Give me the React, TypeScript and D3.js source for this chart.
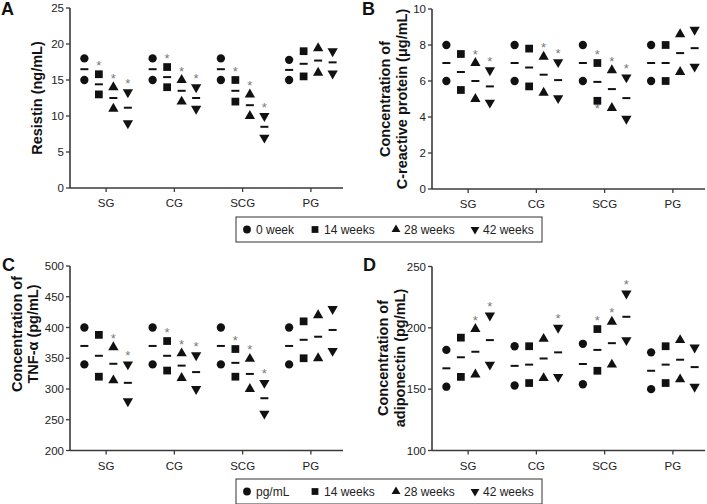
import React from "react";
import * as d3 from "d3";

const FONT = "'Liberation Sans', Arial, Helvetica, sans-serif";

const groups = ["SG", "CG", "SCG", "PG"];
const legendTopLabels = ["0 week", "14 weeks", "28 weeks", "42 weeks"];
const legendBottomLabels = ["pg/mL", "14 weeks", "28 weeks", "42 weeks"];

// Each series: per group [upper value, lower value]
const resistin0w = [[18, 15], [18, 15], [18, 15], [17.8, 15]];
const resistin14w = [[15.8, 13], [16.8, 14], [15, 12], [19, 15.5]];
const resistin28w = [[14, 11], [15, 12], [13, 10], [19.4, 16]];
const resistin42w = [[13.3, 9], [14, 11], [10, 7], [19, 15.9]];
// significance per group per timepoint
const resistinSig = [[0, 1, 1, 1], [0, 1, 1, 1], [0, 1, 1, 1], [0, 0, 0, 0]];
const resistinTicks = [0, 5, 10, 15, 20, 25];

const crp0w = [[8, 6], [8, 6], [8, 6], [8, 6]];
const crp14w = [[7.5, 5.5], [7.8, 5.7], [7, 4.9], [8, 6]];
const crp28w = [[7, 5], [7.35, 5.35], [6.6, 4.5], [8.6, 6.5]];
const crp42w = [[6.6, 4.8], [7.05, 5.05], [6.2, 3.9], [8.85, 6.8]];
const crpSig = [[0, 0, 1, 1], [0, 0, 1, 1], [0, 1, 1, 1], [0, 0, 0, 0]];
const crpSigLow = [[0, 0, 0, 0], [0, 0, 0, 0], [0, 1, 0, 0], [0, 0, 0, 0]];
const crpTicks = [0, 2, 4, 6, 8, 10];

const tnf0w = [[400, 340], [400, 340], [400, 340], [400, 340]];
const tnf14w = [[388, 320], [378, 330], [365, 320], [410, 350]];
const tnf28w = [[368, 314], [358, 318], [349, 300], [420, 350]];
const tnf42w = [[340, 280], [355, 300], [310, 260], [430, 362]];
const tnfSig = [[0, 0, 1, 1], [0, 1, 1, 1], [0, 1, 1, 1], [0, 0, 0, 0]];
const tnfTicks = [200, 250, 300, 350, 400, 450, 500];

const adipo0w = [[182, 152], [185, 153], [187, 154], [180, 150]];
const adipo14w = [[192, 160], [185, 155], [199, 165], [185, 155]];
const adipo28w = [[199, 162], [191, 159], [205, 170], [190, 158]];
const adipo42w = [[210, 170], [200, 160], [228, 190], [184, 152]];
const adipoSig = [[0, 0, 1, 1], [0, 0, 0, 1], [0, 1, 1, 1], [0, 0, 0, 0]];
const adipoTicks = [100, 150, 200, 250];

const noSig = [[0, 0, 0, 0], [0, 0, 0, 0], [0, 0, 0, 0], [0, 0, 0, 0]];

const symCircle = d3.symbol(d3.symbolCircle, 54)();
const symSquare = d3.symbol(d3.symbolSquare, 60)();
const symTri = d3.symbol(d3.symbolTriangle, 46)();
const symbols = [
  { d: symCircle, rot: 0 },
  { d: symSquare, rot: 0 },
  { d: symTri, rot: 0 },
  { d: symTri, rot: 180 },
];

const INK = "#111";
const AXIS = "#3a3a3a";
const STAR = "#7a7a7a";

type Cfg = {
  letter: string;
  letterX: number;
  letterY: number;
  left: number;
  right: number;
  top: number;
  bottom: number;
  domain: [number, number];
  ticks: number[];
  labels: string[];
  labelXs: number[];
  labelY: number;
  series: number[][][];
  sig: number[][];
  sigLow: number[][];
};

function Marker({ i, x, y }: { i: number; x: number; y: number }) {
  const s = symbols[i];
  return (
    <path
      d={s.d as string}
      transform={`translate(${x},${y})${s.rot ? ` rotate(${s.rot})` : ""}`}
      fill={INK}
    />
  );
}

function Panel({ cfg }: { cfg: Cfg }) {
  const y = d3.scaleLinear().domain(cfg.domain).range([cfg.bottom, cfg.top]);
  const x = d3
    .scaleBand<string>()
    .domain(groups)
    .range([cfg.left + 2, cfg.right + 2]);
  const step = 14.5;
  const cx = (g: string, t: number) =>
    (x(g) as number) + x.bandwidth() / 2 + (t - 1.5) * step;

  return (
    <g>
      <text
        x={cfg.letterX}
        y={cfg.letterY}
        fontFamily={FONT}
        fontWeight="bold"
        fontSize={18}
        fill={INK}
      >
        {cfg.letter}
      </text>
      {/* y axis */}
      <line x1={cfg.left} x2={cfg.left} y1={cfg.top} y2={cfg.bottom} stroke={AXIS} strokeWidth={1.6} />
      {cfg.ticks.map((t) => (
        <g key={t}>
          <line x1={cfg.left - 4} x2={cfg.left} y1={y(t)} y2={y(t)} stroke={AXIS} strokeWidth={1.3} />
          <text
            x={cfg.left - 6}
            y={y(t)}
            textAnchor="end"
            dominantBaseline="central"
            fontFamily={FONT}
            fontSize={11.5}
            fill="#222"
          >
            {t}
          </text>
        </g>
      ))}
      {/* x axis */}
      <line x1={cfg.left} x2={cfg.right} y1={cfg.bottom} y2={cfg.bottom} stroke={AXIS} strokeWidth={1.6} />
      {groups.map((g) => {
        const c = (x(g) as number) + x.bandwidth() / 2;
        return (
          <g key={g}>
            <line x1={c} x2={c} y1={cfg.bottom} y2={cfg.bottom + 4} stroke={AXIS} strokeWidth={1.3} />
            <text
              x={c}
              y={cfg.bottom + 15}
              textAnchor="middle"
              dominantBaseline="central"
              fontFamily={FONT}
              fontSize={11.5}
              fill="#222"
            >
              {g}
            </text>
          </g>
        );
      })}
      {/* y label */}
      {cfg.labels.map((l, i) => (
        <text
          key={l}
          transform={`translate(${cfg.labelXs[i]},${cfg.labelY}) rotate(-90)`}
          textAnchor="middle"
          dominantBaseline="central"
          fontFamily={FONT}
          fontWeight="bold"
          fontSize={14.5}
          fill={INK}
        >
          {l}
        </text>
      ))}
      {/* data */}
      {groups.map((g, gi) =>
        cfg.series.map((s, ti) => {
          const vals = s[gi];
          const px = cx(g, ti);
          const m = d3.mean(vals) as number;
          return (
            <g key={g + ti}>
              {cfg.sigLow[gi][ti] ? (
                <text
                  x={px}
                  y={y(d3.min(vals) as number) + 12}
                  textAnchor="middle"
                  fontFamily={FONT}
                  fontSize={13}
                  fill={STAR}
                >
                  *
                </text>
              ) : null}
              {vals.map((v, k) => (
                <Marker key={k} i={ti} x={px} y={y(v)} />
              ))}
              <line x1={px - 4} x2={px + 4} y1={y(m)} y2={y(m)} stroke={INK} strokeWidth={2} />
              {cfg.sig[gi][ti] ? (
                <text
                  x={px}
                  y={y(d3.max(vals) as number) - 4.5}
                  textAnchor="middle"
                  fontFamily={FONT}
                  fontSize={13}
                  fill={STAR}
                >
                  *
                </text>
              ) : null}
            </g>
          );
        })
      )}
    </g>
  );
}

function Legend({ top, labels }: { top: number; labels: string[] }) {
  const symX = [247, 315, 396, 475];
  const textX = [256, 324, 404, 483];
  const cy = top + 12.5;
  return (
    <g>
      <rect x={236} y={top} width={306} height={25} fill="white" stroke="#333" strokeWidth={1} />
      {labels.map((l, i) => (
        <g key={l + i}>
          <path
            d={d3.symbol([d3.symbolCircle, d3.symbolSquare, d3.symbolTriangle, d3.symbolTriangle][i], i === 0 ? 48 : i === 1 ? 46 : 34)() as string}
            transform={`translate(${symX[i]},${cy})${i === 3 ? " rotate(180)" : ""}`}
            fill={INK}
          />
          <text x={textX[i]} y={cy} dominantBaseline="central" fontFamily={FONT} fontSize={12} fill="#222">
            {l}
          </text>
        </g>
      ))}
    </g>
  );
}

const panelA: Cfg = {
  letter: "A", letterX: 1, letterY: 15,
  left: 70, right: 343, top: 8, bottom: 188,
  domain: [0, 25], ticks: resistinTicks,
  labels: ["Resistin (ng/mL)"], labelXs: [37], labelY: 98,
  series: [resistin0w, resistin14w, resistin28w, resistin42w],
  sig: resistinSig, sigLow: noSig,
};
const panelB: Cfg = {
  letter: "B", letterX: 362, letterY: 15,
  left: 432, right: 705, top: 9, bottom: 189,
  domain: [0, 10], ticks: crpTicks,
  labels: ["Concentration of", "C-reactive protein (μg/mL)"], labelXs: [385, 402], labelY: 99,
  series: [crp0w, crp14w, crp28w, crp42w],
  sig: crpSig, sigLow: crpSigLow,
};
const panelC: Cfg = {
  letter: "C", letterX: 2, letterY: 271,
  left: 70, right: 343, top: 266, bottom: 450.5,
  domain: [200, 500], ticks: tnfTicks,
  labels: ["Concentration of", "TNF-α (pg/mL)"], labelXs: [17, 33], labelY: 334,
  series: [tnf0w, tnf14w, tnf28w, tnf42w],
  sig: tnfSig, sigLow: noSig,
};
const panelD: Cfg = {
  letter: "D", letterX: 363, letterY: 271,
  left: 432, right: 705, top: 266.5, bottom: 450.5,
  domain: [100, 250], ticks: adipoTicks,
  labels: ["Concentration of", "adiponectin (pg/mL)"], labelXs: [383, 400], labelY: 358,
  series: [adipo0w, adipo14w, adipo28w, adipo42w],
  sig: adipoSig, sigLow: noSig,
};

export default function App() {
  return (
    <svg
      width={707}
      height={504}
      viewBox="0 0 707 504"
      style={{ position: "absolute", left: 0, top: 0, background: "white" }}
    >
      <rect width={707} height={504} fill="white" />
      <Panel cfg={panelA} />
      <Panel cfg={panelB} />
      <Panel cfg={panelC} />
      <Panel cfg={panelD} />
      <Legend top={217} labels={legendTopLabels} />
      <Legend top={479} labels={legendBottomLabels} />
    </svg>
  );
}
